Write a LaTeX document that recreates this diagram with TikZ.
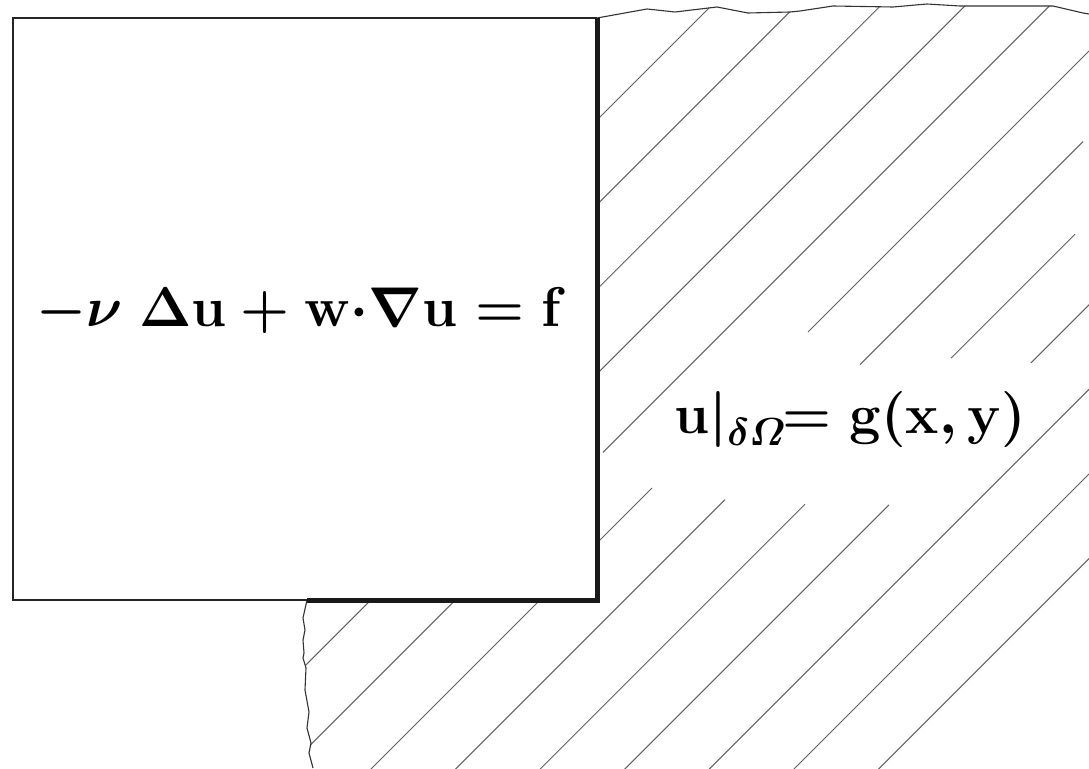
\RequirePackage{fix-cm}
\documentclass[tikz,border=0pt]{standalone}
\usepackage{amsmath,bm}
\begin{document}
\begin{tikzpicture}[x=1pt,y=-1pt,
  hatchline/.style={draw=black!62,line width=1pt},
  thinedge/.style={draw=black!85,line width=1.4pt},
  thickedge/.style={draw=black!90,line width=5pt,line join=miter},
  wavy/.style={draw=black!80,line width=1.1pt,line join=round},
  eq/.style={inner sep=0pt,anchor=base,font=\fontsize{56}{64}\selectfont\boldmath}]
\useasboundingbox[fill=white] (0,0) rectangle (1089,768);
% hatched domain
\begin{scope}
\clip (597,18) -- (647,9) -- (675,12) -- (717,7) -- (748,13) -- (790,12) -- (800,11) -- (833,6) -- (893,7) -- (927,4) -- (960,6) -- (1045,6) -- (1053,6) -- (1083,13) -- (1095,15) -- (1095,775) -- (313,775) -- (313,767) -- (309,753) -- (311,743) -- (307,728) -- (308,720) -- (309,712) -- (305,690) -- (306,668) -- (303,658) -- (304,653) -- (303,640) -- (305,630) -- (303,618) -- (307,600) -- (597,600) -- cycle;
\foreach \c/\a/\b in {717/500/800, 801.6/500/900, 886.2/500/1000, 970.8/250/1100,
  1055.4/250/560, 1055.4/603/1100, 1140/250/652, 1140/808/1100, 1224.6/400/725, 1224.6/860/1083,
  1309.2/500/805, 1309.2/951/1075, 1393.8/600/889, 1393.8/1031/1100,
  1478.4/650/1100, 1563/750/1100, 1647.6/850/1100}
  \draw[hatchline] ({\a},{\c-\a}) -- ({\b},{\c-\b});
\end{scope}
% outer wavy borders
\coordinate (tr) at (597,18);
\coordinate (br) at (597,600);
\coordinate (bm) at (307,600);
\coordinate (bl) at (13,600);
\coordinate (tl) at (13,18);
\draw[wavy] (tr) -- (647,9) -- (675,12) -- (717,7) -- (748,13) -- (790,12) -- (800,11) -- (833,6) -- (893,7) -- (927,4) -- (960,6) -- (1045,6) -- (1053,6) -- (1083,13) -- (1089,14);
\draw[wavy] (bm) -- (303,618) -- (305,630) -- (303,640) -- (304,653) -- (303,658) -- (306,668) -- (305,690) -- (309,712) -- (308,720) -- (307,728) -- (311,743) -- (309,753) -- (313,768);
% the box
\draw[thinedge] (bm) -- (bl) -- (tl) -- (tr);
\draw[thickedge] (tr) -- (br) -- (bm);
% equations
\node[eq] (pde) at (301.5,326) {$-\bm{\nu}\ \Delta\mathbf{u}+\mathbf{w}{\cdot}\nabla\mathbf{u}=\mathbf{f}$};
\node[eq] (bc) at (850.5,433) {$\mathbf{u}|_{\lower4pt\hbox{\fontsize{39}{40}\selectfont\boldmath$\delta\varOmega$}}\!\!=\mathbf{g}(\mathbf{x},\mathbf{y})$};
\end{tikzpicture}
\end{document}
